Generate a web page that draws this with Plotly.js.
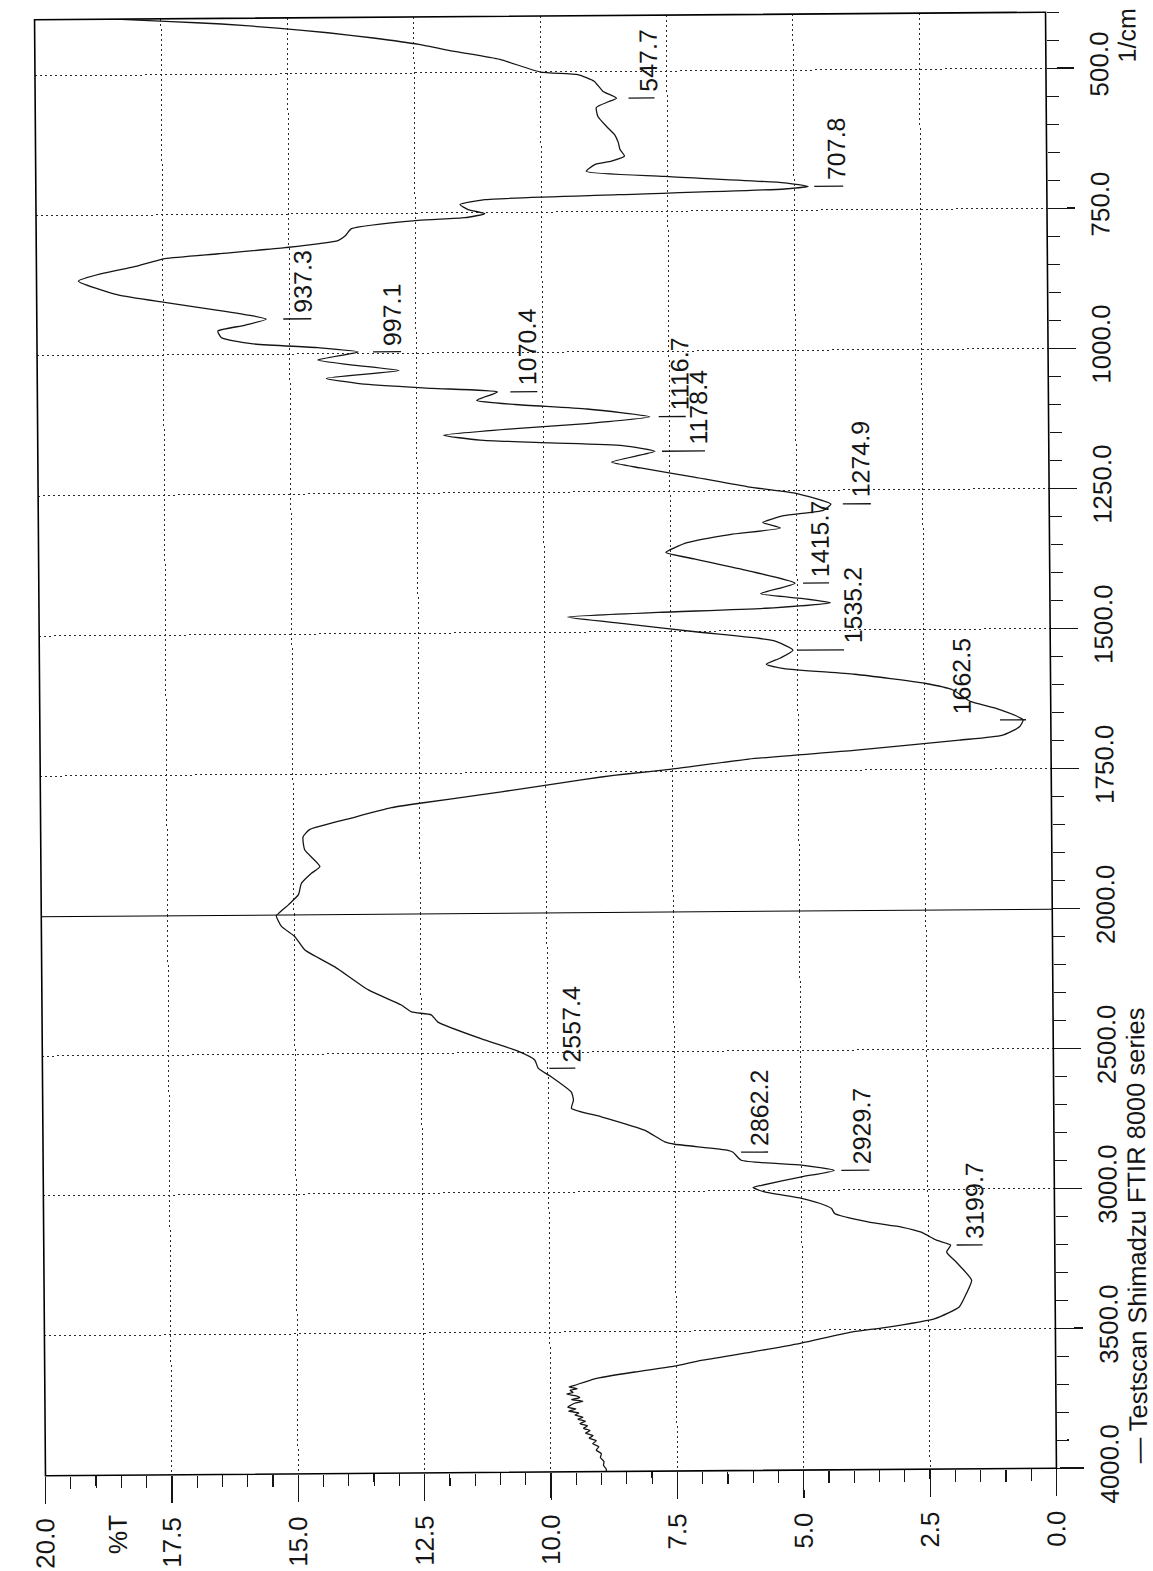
<!DOCTYPE html>
<html>
<head>
<meta charset="utf-8">
<script src="https://cdn.plot.ly/plotly-3.0.1.min.js"></script>
<style>
  html, body { margin: 0; padding: 0; background: #ffffff; overflow: hidden; }
  #chart {
    width: 1153px; height: 1571px;
    transform: rotate(-0.43deg);
    transform-origin: 544px 744px;
  }
</style>
</head>
<body>
<div id="chart"></div>
<script>
// FTIR spectrum: wavenumber (1/cm) and transmittance (%T)
const wavenumber = [
  400, 405, 410, 418, 427, 437, 449, 462, 477, 500,
  505, 517, 535, 547.7, 554, 564, 580, 598, 613, 627,
  639, 651, 660, 666, 678, 688, 701, 707.8, 712, 720,
  727, 735.5, 744.5, 752, 759, 763, 777, 790, 798, 810,
  820, 828, 842, 854, 867, 892, 906, 921, 931, 937.3,
  948, 958, 970, 981, 989, 997.1, 1011, 1020, 1031, 1044,
  1054, 1063, 1070.4, 1085, 1093, 1102, 1116.7, 1128, 1136, 1147,
  1156, 1162, 1168, 1178.4, 1197, 1208, 1225, 1243, 1255, 1274.9,
  1286, 1295, 1307, 1317, 1328, 1342, 1359, 1371, 1393, 1415.7,
  1434, 1443, 1451, 1460, 1466, 1473, 1486, 1502, 1518, 1535.2,
  1549, 1560, 1568, 1579, 1596, 1608, 1629, 1641, 1662.5, 1675,
  1690, 1698, 1715, 1729, 1746, 1754, 1759, 1769, 1779, 1789,
  1803, 1811, 1829, 1849, 1862, 1885, 1915, 1927, 1945, 1965,
  1983, 2003, 2043, 2079, 2128, 2189, 2272, 2327, 2352, 2363,
  2389, 2454, 2495, 2527, 2557.4, 2588, 2643, 2672, 2701, 2732,
  2781, 2823, 2832, 2855, 2862.2, 2891, 2910, 2929.7, 2952, 2981,
  2989, 3005, 3029, 3054, 3066, 3084, 3115, 3134, 3153, 3182,
  3199.7, 3225, 3263, 3326, 3371, 3421, 3462, 3493, 3508, 3546,
  3577, 3605, 3625, 3645, 3668, 3691, 3697, 3703, 3709, 3716,
  3722, 3729, 3735, 3742, 3748, 3755, 3762, 3769, 3776, 3783,
  3790, 3797, 3805, 3812, 3820, 3828, 3836, 3845, 3853, 3862,
  3871, 3880, 3890, 3900, 3911, 3923, 3936, 3950, 3964, 3978,
  3990, 4000
];
const transmittance = [
  18.4, 17.3, 16.3, 15.2, 14.2, 13.3, 12.4, 11.7, 10.8, 10.0,
  9.26, 8.94, 8.77, 8.50, 8.66, 8.90, 8.87, 8.70, 8.54, 8.47,
  8.44, 8.35, 8.61, 8.94, 9.11, 7.56, 5.19, 4.72, 5.19, 8.48,
  11.12, 11.61, 11.45, 11.12, 11.52, 12.44, 13.76, 13.89, 14.03, 15.08,
  16.40, 17.46, 18.06, 18.71, 19.17, 18.39, 17.47, 16.41, 15.75, 15.46,
  15.89, 16.42, 16.35, 15.76, 14.44, 13.65, 14.45, 13.79, 12.84, 14.28,
  13.59, 12.20, 10.90, 11.31, 10.55, 9.13, 7.89, 9.14, 10.55, 11.97,
  11.25, 9.85, 8.43, 7.79, 8.65, 8.08, 7.02, 5.96, 5.03, 4.32,
  4.47, 5.25, 5.67, 5.32, 6.32, 7.17, 7.59, 7.03, 5.96, 5.04,
  5.72, 4.91, 4.34, 5.62, 7.75, 9.55, 8.39, 6.93, 5.47, 5.09,
  5.34, 5.62, 5.27, 3.88, 2.49, 1.94, 1.59, 1.11, 0.55, 0.62,
  0.97, 1.81, 3.90, 5.98, 7.51, 8.41, 8.90, 9.69, 10.48, 11.27,
  12.46, 13.06, 13.85, 14.68, 14.81, 14.78, 14.48, 14.65, 14.85, 14.91,
  15.11, 15.35, 15.25, 14.99, 14.79, 14.20, 13.54, 12.89, 12.69, 12.30,
  12.17, 11.25, 10.59, 10.26, 10.19, 9.93, 9.54, 9.50, 9.54, 8.95,
  8.10, 7.70, 7.50, 6.45, 6.35, 6.19, 5.00, 4.35, 5.00, 5.79,
  5.96, 5.73, 5.00, 4.54, 4.41, 4.35, 3.69, 3.03, 2.64, 2.34,
  2.06, 2.14, 1.94, 1.65, 1.75, 1.90, 2.38, 3.38, 4.04, 5.03,
  6.02, 7.01, 7.54, 8.33, 9.12, 9.52, 9.63, 9.47, 9.61, 9.55,
  9.68, 9.49, 9.42, 9.58, 9.36, 9.52, 9.60, 9.66, 9.50, 9.64,
  9.44, 9.52, 9.36, 9.46, 9.31, 9.42, 9.27, 9.35, 9.22, 9.31,
  9.16, 9.24, 9.10, 9.17, 9.05, 9.10, 9.00, 9.02, 8.95, 8.96,
  8.91, 8.90
];

// Peak positions printed next to the trace
const peakLabels = [547.7, 707.8, 937.3, 997.1, 1070.4, 1116.7, 1178.4, 1274.9,
                    1415.7, 1535.2, 1662.5, 2557.4, 2862.2, 2929.7, 3199.7];

// Axis tick values
const percentTicks = [0, 2.5, 5, 7.5, 10, 12.5, 15, 17.5, 20];
const upperTicks = [500, 750, 1000, 1250, 1500, 1750];
const lowerTicks = [2000, 2500, 3000, 3500, 4000];

// Label placement (screen pixels measured from the peak point)
const labelTickFrom = [12, 6, 17, 15, 13, 9, 7, 12, 8, 5, -23, 11, 8, 7, 6];
const labelTickTo   = [38, 35, 45, 43, 40, 36, 50, 40, 34, 51, 3, 37, 35, 35, 32];
const labelTextAt   = [32, 28, 36, 34, 30, 30, 43, 30, 25, 60, -61, 33, 26, 27, 24];

const ink = '#151515';
const family = 'Liberation Sans, Arial, sans-serif';
const gridDash = '2px,3px';

const spectrumLine = { color: ink, width: 1.3, shape: 'spline', smoothing: 0.5 };
const traces = [
  { x: transmittance, y: wavenumber, xaxis: 'x', yaxis: 'y',
    type: 'scatter', mode: 'lines', line: spectrumLine, hoverinfo: 'skip' },
  { x: transmittance, y: wavenumber, xaxis: 'x', yaxis: 'y2',
    type: 'scatter', mode: 'lines', line: spectrumLine, hoverinfo: 'skip' }
];

const tickStyle = {
  ticks: 'outside', ticklen: 27, tickwidth: 1.3, tickcolor: ink,
  tickangle: -90, tickfont: { family, size: 26, color: ink },
  showgrid: true, gridcolor: '#2a2a2a', gridwidth: 1, griddash: gridDash,
  showline: false, zeroline: false, fixedrange: true
};
const minorStyle = { ticks: 'outside', ticklen: 12, tickwidth: 1.2, tickcolor: ink, showgrid: false };

const upperDomain = 0.3843;

const layout = {
  width: 1153, height: 1571,
  margin: { l: 40, r: 102, t: 16, b: 99, pad: 0 },
  paper_bgcolor: '#ffffff', plot_bgcolor: '#ffffff',
  showlegend: false,
  font: { family, size: 25, color: ink },
  xaxis: Object.assign({}, tickStyle, {
    domain: [0, 1], anchor: 'y2', side: 'bottom', range: [20, 0],
    tickmode: 'array', tickvals: percentTicks,
    ticktext: percentTicks.map(v => v.toFixed(1)),
    minor: Object.assign({ tickmode: 'linear', tick0: 0, dtick: 0.5 }, minorStyle),
    ticklabelstandoff: 4
  }),
  yaxis: Object.assign({}, tickStyle, {
    domain: [upperDomain, 1], anchor: 'x', side: 'right', range: [1999.999, 400],
    tickmode: 'array', tickvals: upperTicks,
    ticktext: upperTicks.map(v => v.toFixed(1)),
    minor: Object.assign({ tickmode: 'linear', tick0: 0, dtick: 50 }, minorStyle),
    ticklabelstandoff: 3
  }),
  yaxis2: Object.assign({}, tickStyle, {
    domain: [0, upperDomain], anchor: 'x', side: 'right', range: [4000, 2000],
    tickmode: 'array', tickvals: lowerTicks,
    ticktext: lowerTicks.map(v => v.toFixed(1)),
    minor: Object.assign({ tickmode: 'linear', tick0: 0, dtick: 100 }, minorStyle),
    ticklabelstandoff: 3
  }),
  shapes: [
    { type: 'rect', xref: 'paper', yref: 'paper', x0: 0, x1: 1, y0: 0, y1: 1,
      line: { color: '#000000', width: 1.6 }, layer: 'above' },
    { type: 'line', xref: 'paper', yref: 'y2', x0: 0, x1: 1, y0: 2000, y1: 2000,
      line: { color: '#000000', width: 2 }, layer: 'above' }
  ],
  annotations: [
    { xref: 'paper', yref: 'paper', x: 0.071, y: -0.0405, text: '%T',
      textangle: -90, showarrow: false, xanchor: 'center', yanchor: 'middle',
      font: { family, size: 26, color: ink } },
    { xref: 'paper', yref: 'paper', x: 1.08, y: 0.9835, text: '1/cm',
      textangle: -90, showarrow: false, xanchor: 'center', yanchor: 'middle',
      font: { family, size: 25, color: ink } },
    { xref: 'paper', yref: 'paper', x: 1.081, y: 0.0014,
      text: '\u2014 Testscan Shimadzu FTIR 8000 series',
      textangle: -90, showarrow: false, xanchor: 'center', yanchor: 'bottom',
      font: { family, size: 25.5, color: ink } }
  ]
};

// Peak markers: a short leader tick and the rotated wavenumber text
peakLabels.forEach((wn, i) => {
  const k = wavenumber.indexOf(wn);
  const t = transmittance[k];
  const yref = wn <= 2000 ? 'y' : 'y2';
  layout.shapes.push({
    type: 'line', xref: 'x', yref, xsizemode: 'pixel', xanchor: t,
    x0: labelTickFrom[i], x1: labelTickTo[i], y0: wn, y1: wn,
    line: { color: ink, width: 1.3 }
  });
  layout.annotations.push({
    x: t, y: wn, xref: 'x', yref, text: wn.toFixed(1), textangle: -90,
    showarrow: false, xanchor: 'center', yanchor: 'bottom',
    xshift: labelTextAt[i], yshift: 4,
    font: { family, size: 25, color: ink }
  });
});

Plotly.newPlot('chart', traces, layout, { staticPlot: true, displayModeBar: false });
</script>
</body>
</html>
